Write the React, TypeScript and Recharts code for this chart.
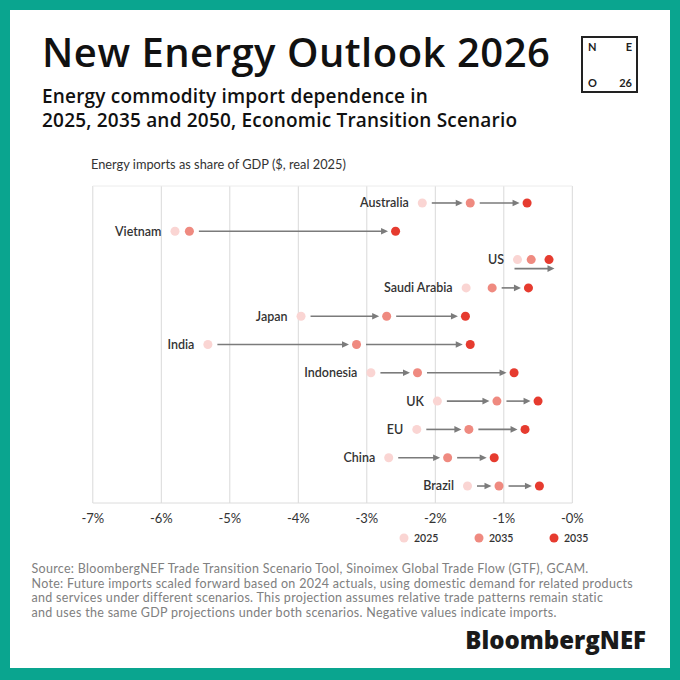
import React from 'react';
import {
  ScatterChart,
  Scatter,
  XAxis,
  YAxis,
  ZAxis,
  CartesianGrid,
  ReferenceLine,
  LabelList,
  Legend,
} from 'recharts';

// ---------- data ----------
const countries = ['Australia', 'Vietnam', 'US', 'Saudi Arabia', 'Japan', 'India', 'Indonesia', 'UK', 'EU', 'China', 'Brazil'];
const values2025 = [-2.19, -5.8, -0.8, -1.55, -3.96, -5.32, -2.94, -1.97, -2.27, -2.68, -1.53];
const values2035 = [-1.49, -5.59, -0.6, -1.17, -2.71, -3.15, -2.26, -1.1, -1.51, -1.82, -1.07];
const values2050 = [-0.66, -2.58, -0.34, -0.64, -1.56, -1.49, -0.85, -0.5, -0.69, -1.14, -0.48];
const xTicks = [-7, -6, -5, -4, -3, -2, -1, 0];
const xTickLabels = ['-7%', '-6%', '-5%', '-4%', '-3%', '-2%', '-1%', '-0%'];
const seriesNames = ['2025', '2035', '2035'];
const arrowBelowCountries = ['US'];

const sourceLines = [
  'Source: BloombergNEF Trade Transition Scenario Tool, Sinoimex Global Trade Flow (GTF), GCAM.',
  'Note: Future imports scaled forward based on 2024 actuals, using domestic demand for related products',
  'and services under different scenarios. This projection assumes relative trade patterns remain static',
  'and uses the same GDP projections under both scenarios. Negative values indicate imports.',
];

const COLORS = ['#fad5d3', '#ef8a80', '#e63b2f'];
const FONT = 'Lato, "Noto Sans", sans-serif';
const HEAD_FONT = '"Open Sans", Lato, sans-serif';
const ARROW = '#7b7b7b';

const toRows = (vals: number[]) => vals.map((v, i) => ({ x: v, y: i, name: countries[i] }));
const data2025 = toRows(values2025);
const data2035 = toRows(values2035);
const data2050 = toRows(values2050);

// arrow drawn between two segment end points (pixel coords from the library)
const makeArrow = (startGap: number, endGap: number, dy: number) => (props: any) => {
  const { x1, y1, x2 } = props;
  const sx = Number(x1) + startGap;
  const ex = Number(x2) - endGap;
  if (ex - sx < 12) return <g />;
  const y = Number(y1) + dy;
  const head = 7;
  return (
    <g>
      <line x1={sx} y1={y} x2={ex - head + 1} y2={y} stroke={ARROW} strokeWidth={1.6} />
      <polygon points={`${ex},${y} ${ex - head},${y - 3.3} ${ex - head},${y + 3.3}`} fill={ARROW} />
    </g>
  );
};

const normalArrow = makeArrow(9.5, 7.5, 0);
const belowArrow = makeArrow(-3, -5.5, 9);

const renderLegend = (props: any) => {
  const payload = props.payload || [];
  return (
    <div style={{ display: 'flex', fontFamily: FONT }}>
      {payload.map((p: any, i: number) => (
        <div key={i} style={{ display: 'flex', alignItems: 'center', width: 75 }}>
          <svg width={10} height={10} style={{ marginRight: 5 }}>
            <circle cx={5} cy={5} r={4.5} fill={p.color} />
          </svg>
          <span style={{ fontSize: 10.5, fontWeight: 600, color: '#333' }}>{p.value}</span>
        </div>
      ))}
    </div>
  );
};

export default function App() {
  const arrows: React.ReactNode[] = [];
  countries.forEach((c, i) => {
    if (arrowBelowCountries.includes(c)) {
      arrows.push(
        <ReferenceLine
          key={`b-${c}`}
          segment={[{ x: values2025[i], y: i }, { x: values2050[i], y: i }]}
          shape={belowArrow}
          stroke={ARROW}
        />
      );
    } else {
      arrows.push(
        <ReferenceLine
          key={`a-${c}`}
          segment={[{ x: values2025[i], y: i }, { x: values2035[i], y: i }]}
          shape={normalArrow}
          stroke={ARROW}
        />
      );
      arrows.push(
        <ReferenceLine
          key={`c-${c}`}
          segment={[{ x: values2035[i], y: i }, { x: values2050[i], y: i }]}
          shape={normalArrow}
          stroke={ARROW}
        />
      );
    }
  });

  return (
    <div
      style={{
        position: 'fixed',
        left: 0,
        top: 0,
        width: 680,
        height: 680,
        background: '#0aa58f',
        fontFamily: FONT,
      }}
    >
      <div style={{ position: 'absolute', left: 10, top: 10, width: 660, height: 658, background: '#fff' }} />
      <svg width={680} height={680} style={{ position: 'absolute', left: 0, top: 0 }}>
        <text x={42} y={67} fontSize={40} fontWeight={600} fill="#111" letterSpacing={0.5} fontFamily={HEAD_FONT}>
          New Energy Outlook 2026
        </text>
        <text x={42} y={103} fontSize={19} fontWeight={600} fill="#111" letterSpacing={0.2} fontFamily={HEAD_FONT}>
          Energy commodity import dependence in
        </text>
        <text x={42} y={127} fontSize={19} fontWeight={600} fill="#111" letterSpacing={0.2} fontFamily={HEAD_FONT}>
          2025, 2035 and 2050, Economic Transition Scenario
        </text>
        <text x={91} y={169} fontSize={12.8} fill="#333" fontFamily={FONT}>
          Energy imports as share of GDP ($, real 2025)
        </text>
        {sourceLines.map((l, i) => (
          <text key={i} x={31.5} y={573 + i * 14.6} fontSize={12.5} fill="#808080" fontFamily={FONT} letterSpacing={0.3}>
            {l}
          </text>
        ))}
        <text x={646} y={649} fontSize={24} fontWeight={800} fill="#1a1a1a" textAnchor="end" letterSpacing={0} fontFamily={HEAD_FONT}>
          BloombergNEF
        </text>
        <rect x={582} y={37} width={55} height={55} fill="none" stroke="#222" strokeWidth={2} />
        <text x={588} y={51} fontSize={11} fontWeight={700} fill="#222" fontFamily={FONT}>N</text>
        <text x={632} y={51} fontSize={11} fontWeight={700} fill="#222" textAnchor="end" fontFamily={FONT}>E</text>
        <text x={588} y={87} fontSize={11} fontWeight={700} fill="#222" fontFamily={FONT}>O</text>
        <text x={632} y={87} fontSize={11} fontWeight={700} fill="#222" textAnchor="end" fontFamily={FONT}>26</text>
      </svg>
      <div style={{ position: 'absolute', left: 0, top: 0 }}>
        <ScatterChart
          width={680}
          height={560}
          margin={{ top: 186, right: 107.7, bottom: 27, left: 92.8 }}
        >
          <CartesianGrid horizontal={false} stroke="#d9d9d9" />
          <XAxis
            type="number"
            dataKey="x"
            domain={[-7, 0]}
            ticks={xTicks}
            tickFormatter={(v: number) => xTickLabels[xTicks.indexOf(v)] ?? ''}
            tickLine={false}
            axisLine={{ stroke: '#dcdcdc' }}
            tick={{ fill: '#333', fontSize: 13, fontFamily: FONT }}
            tickMargin={5}
            height={30}
            interval={0}
          />
          <YAxis type="number" dataKey="y" domain={[-0.6, 10.6]} reversed hide />
          <ZAxis range={[135, 135]} />
          <ReferenceLine y={-0.6} stroke="#ececec" />
          {arrows}
          <Scatter name={seriesNames[0]} data={data2025} fill={COLORS[0]} isAnimationActive={false}>
            <LabelList
              dataKey="name"
              position="left"
              offset={9}
              fill="#333"
              fontSize={12.5}
              fontWeight={600}
              fontFamily={FONT}
            />
          </Scatter>
          <Scatter name={seriesNames[1]} data={data2035} fill={COLORS[1]} isAnimationActive={false} />
          <Scatter name={seriesNames[2]} data={data2050} fill={COLORS[2]} isAnimationActive={false} />
          <Legend
            layout="horizontal"
            verticalAlign="middle"
            align="center"
            wrapperStyle={{ position: 'absolute', left: 399, top: 532, width: 'auto', right: 'auto', bottom: 'auto' }}
            content={renderLegend}
          />
        </ScatterChart>
      </div>
    </div>
  );
}
